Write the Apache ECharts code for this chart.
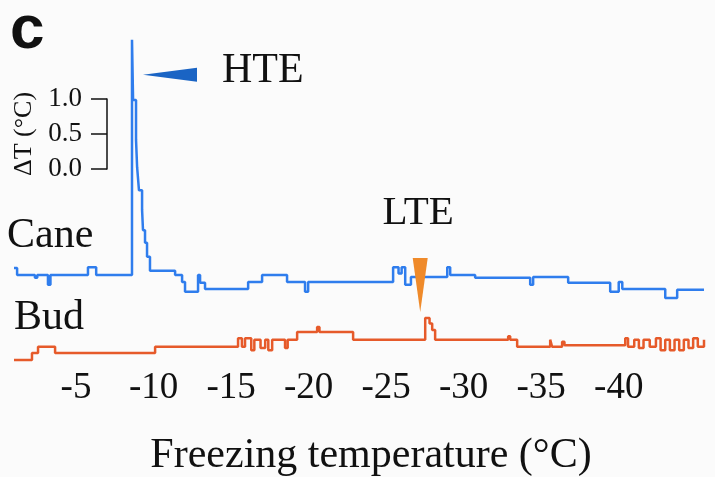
<!DOCTYPE html>
<html>
<head>
<meta charset="utf-8">
<script src="https://cdn.jsdelivr.net/npm/echarts@6/dist/echarts.min.js"></script>
<style>
    html, body { margin: 0; padding: 0; background: #fbfbfb; }
    #main { width: 715px; height: 477px; }
</style>
</head>
<body>
<div id="main"></div>
<script>
// freezing temperature (°C) where each step of the trace starts
var caneTemp = [-1.0, -1.2, -2.35, -2.5, -3.19, -3.35, -5.77, -6.3, -8.61, -8.68, -8.87, -8.94, -9.06, -9.26, -9.32, -9.45, -9.58, -9.77,
    -11.39, -11.84, -12.03, -12.87, -13.0, -13.32, -16.1, -17.0, -18.61, -19.77, -19.97, -25.45, -25.8, -26.0, -26.23, -26.6,
    -28.94, -29.13, -30.74, -34.29, -34.48, -36.74, -39.45, -40.0, -40.23, -43.0, -43.77, -45.5];
// ΔT of cane (°C)
var caneDT = [0.10, 0, -0.04, 0, -0.14, 0, 0.11, 0, 3.36, 2.5, 1.93, 1.54, 1.21, 0.93, 0.64, 0.46, 0.26, 0.06,
    0, -0.10, -0.24, 0, -0.11, -0.20, -0.10, 0, -0.10, -0.24, -0.10, 0.11, 0.02, 0.11, -0.14, -0.03,
    0.11, 0, -0.04, -0.14, -0.03, -0.11, -0.24, -0.10, -0.20, -0.33, -0.21, -0.21];

var budTemp = [-1.0, -2.16, -2.55, -3.65, -10.1, -15.45, -15.7, -15.9, -16.3, -16.5, -16.9, -17.2, -17.4, -17.65, -18.48, -18.65,
    -19.26, -20.55, -20.7, -22.87, -27.52, -27.8, -27.97, -28.16, -32.87, -33.0, -33.45, -35.58, -35.7, -36.35, -36.5,
    -40.42, -40.6, -41.0, -41.3, -41.6, -42.0, -42.4, -42.7, -43.0, -43.3, -43.6, -43.9, -44.2, -44.5, -44.8, -45.1, -45.5];
// ΔT of bud (°C)
var budDT = [-0.10, 0, 0.09, 0, 0.09, 0.21, 0.09, 0.21, 0.04, 0.19, 0.07, 0.19, 0.04, 0.19, 0.07, 0.19,
    0.30, 0.37, 0.30, 0.19, 0.50, 0.42, 0.33, 0.19, 0.24, 0.19, 0.09, 0.19, 0.09, 0.16, 0.11,
    0.21, 0.09, 0.19, 0.07, 0.19, 0.09, 0.21, 0.04, 0.19, 0.04, 0.19, 0.04, 0.19, 0.07, 0.21, 0.09, 0.19];

var tempTicks = [-5, -10, -15, -20, -25, -30, -35, -40];
var scaleTicks = [0, 0.5, 1.0];

// vertical offset of the two traces (ΔT units)
var caneOffset = 1.357;
var budOffset = 0.243;

var serif = 'Liberation Serif';

function pairs(t, v, off) {
    var out = [];
    for (var i = 0; i < t.length; i++) out.push([t[i], v[i] + off]);
    return out;
}
function peak(t, v, off) {
    var k = 0;
    for (var i = 1; i < v.length; i++) if (v[i] > v[k]) k = i;
    return [t[k], v[k] + off];
}

var chart = echarts.init(document.getElementById('main'));
var option = {
    backgroundColor: '#fbfbfb',
    animation: false,
    textStyle: { fontFamily: serif, color: '#111' },
    grid: [
        { left: 14, right: 11, top: 20, bottom: 107, outerBoundsMode: 'none' },
        { left: 107, width: 1, top: 99, height: 70, outerBoundsMode: 'none' }
    ],
    xAxis: [
        {
            type: 'value', gridIndex: 0, inverse: true,
            min: caneTemp[caneTemp.length - 1], max: caneTemp[0],
            splitNumber: 9, minInterval: 5, maxInterval: 5,
            axisLine: { show: false }, axisTick: { show: false }, splitLine: { show: false },
            axisLabel: {
                margin: 0, fontSize: 37, fontFamily: 'Times New Roman', color: '#111',
                formatter: function (v) {
                    var r = Math.round(v * 100) / 100;
                    return tempTicks.indexOf(r) >= 0 ? String(r) : '';
                }
            },
            name: 'Freezing temperature (°C)', nameLocation: 'middle', nameGap: 65, nameMoveOverlap: false,
            nameTextStyle: { fontSize: 42, fontFamily: serif, color: '#111', padding: [0, 0, 0, 24] }
        },
        { type: 'value', gridIndex: 1, show: false }
    ],
    yAxis: [
        { type: 'value', gridIndex: 0, min: 0, max: 5, show: false },
        {
            type: 'value', gridIndex: 1, min: scaleTicks[0], max: scaleTicks[2], interval: 0.5,
            axisLine: { show: true, lineStyle: { color: '#111', width: 1.5 } },
            axisTick: { show: true, length: 16, lineStyle: { color: '#111', width: 1.5 } },
            splitLine: { show: false },
            axisLabel: { margin: 25, fontSize: 27, fontFamily: serif, color: '#111', formatter: function (v) { return v.toFixed(1); } },
            name: 'ΔT (°C)', nameLocation: 'middle', nameGap: 70, nameMoveOverlap: false,
            nameTextStyle: { fontSize: 26, fontFamily: serif, color: '#111' }
        }
    ],
    series: [
        {
            name: 'Cane', type: 'line', step: 'end', showSymbol: false,
            xAxisIndex: 0, yAxisIndex: 0,
            lineStyle: { color: '#2f7ded', width: 2.5 },
            data: pairs(caneTemp, caneDT, caneOffset),
            markPoint: {
                silent: true,
                data: [{
                    coord: peak(caneTemp, caneDT, caneOffset),
                    symbol: 'path://M0,5 L10,0 L10,10 Z', symbolKeepAspect: false,
                    symbolSize: [54, 14], symbolOffset: [38, 35],
                    itemStyle: { color: '#1a64c4' },
                    label: { show: true, formatter: 'HTE', position: 'right', distance: 25, offset: [0, -4],
                        fontSize: 42, fontFamily: serif, color: '#111' }
                }]
            }
        },
        {
            name: 'Bud', type: 'line', step: 'end', showSymbol: false,
            xAxisIndex: 0, yAxisIndex: 0,
            lineStyle: { color: '#e65a2a', width: 2.5 },
            data: pairs(budTemp, budDT, budOffset),
            markPoint: {
                silent: true,
                data: [{
                    coord: peak(budTemp, budDT, budOffset),
                    symbol: 'path://M0,0 L10,0 L5,10 Z', symbolKeepAspect: false,
                    symbolSize: [15, 54], symbolOffset: [-5, -33],
                    itemStyle: { color: '#ef8a2a' },
                    label: { show: true, formatter: 'LTE', position: 'top', distance: 24, offset: [-2, 0],
                        fontSize: 41, fontFamily: serif, color: '#111' }
                }]
            }
        }
    ],
    graphic: [
        { type: 'text', x: 10, y: 31, style: { text: 'c', font: 'bold 62px "Liberation Sans", Arial, sans-serif', fill: '#111', verticalAlign: 'middle' } },
        { type: 'text', x: 7, y: 236, style: { text: 'Cane', font: '42px "Liberation Serif"', fill: '#111', verticalAlign: 'middle' } },
        { type: 'text', x: 14, y: 318, style: { text: 'Bud', font: '42px "Liberation Serif"', fill: '#111', verticalAlign: 'middle' } }
    ]
};
chart.setOption(option);
</script>
</body>
</html>
